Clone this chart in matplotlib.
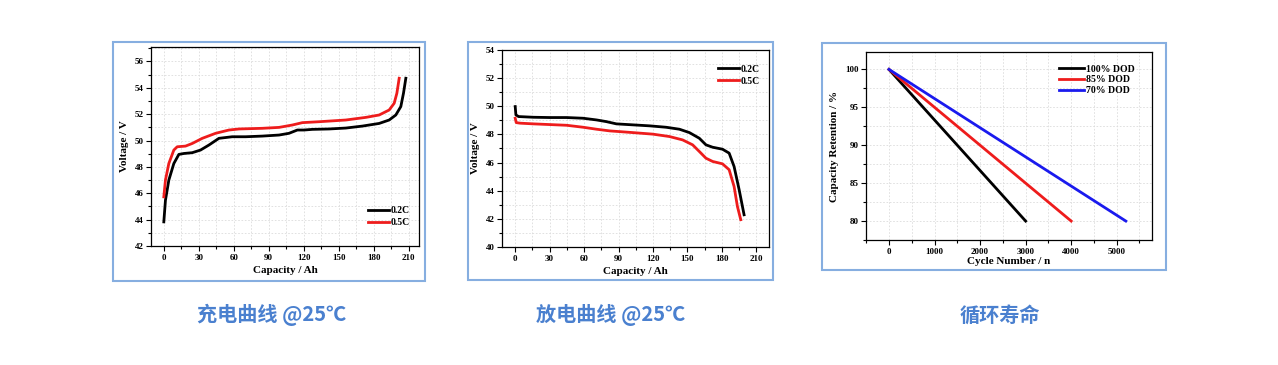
import matplotlib
matplotlib.use("Agg")
import matplotlib.pyplot as plt
from matplotlib.patches import Rectangle
from matplotlib.ticker import MultipleLocator

# ---------------- data ----------------
chg_02_x = [0, 1.4, 4.3, 8.6, 12.9, 17.2, 24.4, 31.5, 38.7, 47.3, 58.7, 70.2, 84.5, 98.9, 107.4,
            114.6, 120.3, 127.5, 141.8, 156.2, 170.5, 184.8, 193.4, 199.1, 203.4, 205.7, 207.7]
chg_02_v = [43.83, 45.47, 47.0, 48.26, 48.95, 49.02, 49.08, 49.28, 49.66, 50.17, 50.29, 50.29, 50.34,
            50.42, 50.55, 50.8, 50.8, 50.85, 50.88, 50.95, 51.1, 51.3, 51.56, 51.94, 52.58, 53.6, 54.73]
chg_05_x = [0, 1.4, 4.3, 8.6, 11.5, 18.6, 24.4, 33.0, 44.4, 55.9, 64.5, 84.5, 98.9, 110.3, 118.9,
            133.2, 156.2, 173.4, 184.8, 193.4, 197.7, 200.0, 202.0]
chg_05_v = [45.73, 47.0, 48.26, 49.28, 49.53, 49.58, 49.78, 50.17, 50.55, 50.8, 50.88, 50.93, 51.0,
            51.18, 51.36, 51.43, 51.56, 51.76, 51.94, 52.32, 52.83, 53.59, 54.73]

dis_02_x = [0, 0.6, 2.9, 15.9, 30.3, 44.8, 59.2, 70.8, 79.4, 88.1, 102.5, 117.0, 131.4, 143.0,
            151.7, 160.3, 166.1, 171.9, 180.5, 186.3, 190.6, 195.0, 199.3]
dis_02_v = [49.98, 49.39, 49.27, 49.22, 49.2, 49.2, 49.15, 49.03, 48.91, 48.75, 48.68, 48.61, 48.51,
            48.37, 48.13, 47.73, 47.26, 47.09, 46.95, 46.67, 45.72, 44.07, 42.29]
dis_05_x = [0, 0.9, 4.3, 15.9, 30.3, 44.8, 59.2, 70.8, 82.4, 91.0, 102.5, 119.9, 134.3, 145.8,
            154.5, 160.3, 166.1, 171.9, 180.5, 186.3, 190.6, 193.5, 196.4]
dis_05_v = [49.15, 48.84, 48.80, 48.75, 48.70, 48.65, 48.51, 48.37, 48.25, 48.2, 48.13, 48.02, 47.85,
            47.61, 47.26, 46.79, 46.31, 46.08, 45.91, 45.49, 44.30, 42.88, 41.94]

cyc_100_x = [0, 3000]
cyc_100_y = [100, 80]
cyc_85_x = [0, 4000]
cyc_85_y = [100, 80]
cyc_70_x = [0, 5200]
cyc_70_y = [100, 80]

titles = ["充电曲线 @25℃", "放电曲线 @25℃", "循环寿命"]

# ---------------- figure ----------------
W, H = 1278, 365
fig = plt.figure(figsize=(W / 100, H / 100), dpi=100)
serif = ["Liberation Serif", "DejaVu Serif"]
cjk = ["Noto Sans CJK SC", "DejaVu Sans"]

frame_color = "#86aee0"
title_color = "#4a80cf"


def px_axes(l, t, r, b):
    return fig.add_axes([l / W, 1 - b / H, (r - l) / W, (b - t) / H])


def frame(l, t, r, b):
    fig.patches.append(Rectangle((l / W, 1 - b / H), (r - l) / W, (b - t) / H,
                                 transform=fig.transFigure, fill=False,
                                 edgecolor=frame_color, linewidth=1.5))


def style(ax, xmaj, xmin, ymaj, ymin, xlabel, ylabel):
    ax.xaxis.set_major_locator(MultipleLocator(xmaj))
    ax.xaxis.set_minor_locator(MultipleLocator(xmin))
    ax.yaxis.set_major_locator(MultipleLocator(ymaj))
    ax.yaxis.set_minor_locator(MultipleLocator(ymin))
    ax.grid(True, which="both", linestyle=(0, (2, 2)), color="#dcdcdc", linewidth=0.6)
    ax.set_axisbelow(True)
    ax.tick_params(which="both", direction="out", top=False, right=False, width=0.8)
    ax.tick_params(which="major", length=3.5, labelsize=6.5, pad=2)
    ax.tick_params(which="minor", length=2)
    for lab in ax.get_xticklabels() + ax.get_yticklabels():
        lab.set_fontfamily(serif)
        lab.set_fontweight("bold")
    for s in ax.spines.values():
        s.set_linewidth(0.9)
    ax.set_xlabel(xlabel, fontfamily=serif, fontweight="bold", fontsize=8, labelpad=3)
    ax.set_ylabel(ylabel, fontfamily=serif, fontweight="bold", fontsize=8, labelpad=4)


lw = 2.0
leg_prop = {"family": serif, "weight": "bold", "size": 7}

# Panel 1: charge
frame(113, 42, 425, 281)
ax1 = px_axes(151, 47, 419, 246)
ax1.plot(chg_02_x, chg_02_v, color="black", lw=lw, label="0.2C")
ax1.plot(chg_05_x, chg_05_v, color="#ee1c1c", lw=lw, label="0.5C")
ax1.set_xlim(-11, 219)
ax1.set_ylim(42, 57.1)
style(ax1, 30, 15, 2, 1, "Capacity / Ah", "Voltage / V")
ax1.legend(loc="lower right", bbox_to_anchor=(1.0, 0.05), frameon=False, handlelength=2.2,
           handletextpad=0.2, labelspacing=0.3, prop=leg_prop)

# Panel 2: discharge
frame(468, 42, 773, 280)
ax2 = px_axes(502, 50, 769, 247)
ax2.plot(dis_02_x, dis_02_v, color="black", lw=lw, label="0.2C")
ax2.plot(dis_05_x, dis_05_v, color="#ee1c1c", lw=lw, label="0.5C")
ax2.set_xlim(-11.5, 221)
ax2.set_ylim(40, 54)
style(ax2, 30, 15, 2, 1, "Capacity / Ah", "Voltage / V")
ax2.legend(loc="upper right", bbox_to_anchor=(1.0, 0.97), frameon=False, handlelength=2.2,
           handletextpad=0.2, labelspacing=0.3, prop=leg_prop)

# Panel 3: cycle life
frame(822, 43, 1166, 270)
ax3 = px_axes(866, 52, 1152, 240)
ax3.plot(cyc_100_x, cyc_100_y, color="black", lw=lw, label="100% DOD")
ax3.plot(cyc_85_x, cyc_85_y, color="#ee1c1c", lw=lw, label="85% DOD")
ax3.plot(cyc_70_x, cyc_70_y, color="#1a1aee", lw=lw, label="70% DOD")
ax3.set_xlim(-505, 5775)
ax3.set_ylim(77.5, 102.3)
style(ax3, 1000, 500, 5, 2.5, "Cycle Number / n", "Capacity Retention / %")
ax3.xaxis.labelpad = 1
ax3.legend(loc="upper right", bbox_to_anchor=(0.97, 0.98), frameon=False, handlelength=2.6,
           handletextpad=0.2, labelspacing=0.2, prop=leg_prop)

# Chinese titles
for cx, t in zip([272, 611, 1000], titles):
    fig.text(cx / W, 1 - 315 / H, t, ha="center", va="center", fontsize=14.5,
             fontweight="bold", color=title_color, family=cjk)

fig.savefig("out.png", dpi=100, facecolor="white")
